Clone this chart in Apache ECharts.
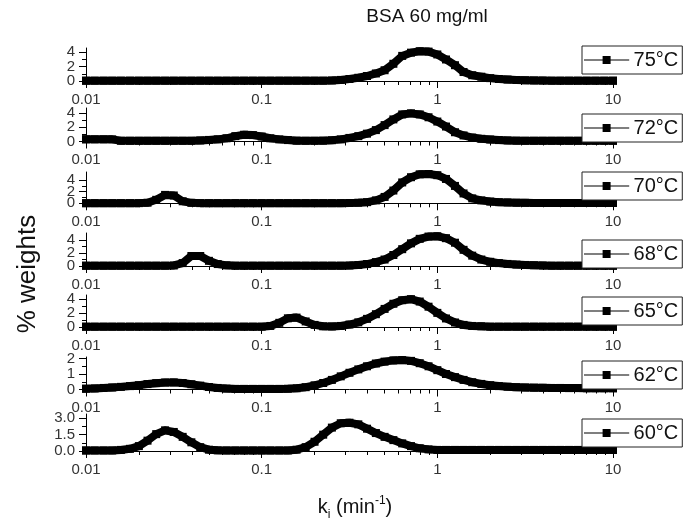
<!DOCTYPE html>
<html>
<head>
<meta charset="utf-8">
<title>BSA 60 mg/ml</title>
<script src="https://cdn.jsdelivr.net/npm/echarts@6/dist/echarts.min.js"></script>
<style>
html, body { margin: 0; padding: 0; background: #fff; }
#main { width: 699px; height: 526px; }
</style>
</head>
<body>
<div id="main"></div>
<script>
// rate constants k_i (min^-1), 20 points per decade
var kValues = [0.01, 0.0112, 0.0126, 0.0141, 0.0158, 0.0178, 0.02, 0.0224, 0.0251, 0.0282,
    0.0316, 0.0355, 0.0398, 0.0447, 0.0501, 0.0562, 0.0631, 0.0708, 0.0794, 0.0891,
    0.1, 0.112, 0.126, 0.141, 0.158, 0.178, 0.2, 0.224, 0.251, 0.282,
    0.316, 0.355, 0.398, 0.447, 0.501, 0.562, 0.631, 0.708, 0.794, 0.891,
    1, 1.12, 1.26, 1.41, 1.58, 1.78, 2, 2.24, 2.51, 2.82,
    3.16, 3.55, 3.98, 4.47, 5.01, 5.62, 6.31, 7.08, 7.94, 8.91, 10];

// % weights, one list per temperature
var w75 = [0.05, 0.05, 0.05, 0.05, 0.05, 0.05, 0.05, 0.05, 0.05, 0.05,
    0.05, 0.05, 0.05, 0.05, 0.05, 0.05, 0.05, 0.05, 0.05, 0.05,
    0.05, 0.05, 0.05, 0.05, 0.05, 0.05, 0.05, 0.05, 0.08, 0.15,
    0.28, 0.45, 0.7, 1.05, 1.5, 2.4, 3.5, 3.95, 4.15, 4.1,
    3.7, 3.0, 2.2, 1.25, 0.8, 0.6, 0.4, 0.28, 0.2, 0.14,
    0.1, 0.08, 0.06, 0.05, 0.05, 0.05, 0.05, 0.05, 0.05, 0.05, 0.05];
var w72 = [0.3, 0.3, 0.3, 0.3, 0.1, 0.1, 0.1, 0.1, 0.1, 0.1,
    0.1, 0.1, 0.1, 0.15, 0.22, 0.3, 0.45, 0.75, 0.95, 0.9,
    0.7, 0.45, 0.3, 0.2, 0.12, 0.1, 0.1, 0.12, 0.18, 0.3,
    0.5, 0.75, 1.1, 1.6, 2.3, 3.1, 3.8, 3.95, 3.8, 3.4,
    2.8, 2.1, 1.3, 0.85, 0.55, 0.38, 0.28, 0.2, 0.15, 0.12,
    0.1, 0.1, 0.1, 0.1, 0.1, 0.1, 0.1, 0.1, 0.1, 0.1, 0.1];
var w70 = [0.03, 0.03, 0.03, 0.03, 0.03, 0.03, 0.03, 0.1, 0.6, 1.45,
    1.35, 0.35, 0.08, 0.03, 0.03, 0.03, 0.03, 0.03, 0.03, 0.03,
    0.03, 0.03, 0.03, 0.03, 0.03, 0.03, 0.03, 0.03, 0.03, 0.03,
    0.05, 0.1, 0.2, 0.5, 1.1, 2.2, 3.6, 4.5, 5.0, 5.05,
    4.85, 4.2, 3.0, 1.7, 0.85, 0.5, 0.3, 0.2, 0.15, 0.1,
    0.08, 0.05, 0.05, 0.05, 0.05, 0.05, 0.05, 0.05, 0.05, 0.05, 0.05];
var w68 = [0.05, 0.05, 0.05, 0.05, 0.05, 0.05, 0.05, 0.05, 0.05, 0.05,
    0.08, 0.45, 1.55, 1.55, 0.8, 0.3, 0.1, 0.05, 0.05, 0.05,
    0.05, 0.05, 0.05, 0.05, 0.05, 0.05, 0.05, 0.05, 0.05, 0.05,
    0.08, 0.15, 0.3, 0.6, 1.0, 1.7, 2.6, 3.5, 4.2, 4.55,
    4.6, 4.3, 3.6, 2.5, 1.6, 1.0, 0.65, 0.45, 0.32, 0.22,
    0.16, 0.12, 0.08, 0.05, 0.05, 0.05, 0.05, 0.05, 0.05, 0.05, 0.05];
var w65 = [0.05, 0.05, 0.05, 0.05, 0.05, 0.05, 0.05, 0.05, 0.05, 0.05,
    0.05, 0.05, 0.05, 0.05, 0.05, 0.05, 0.05, 0.05, 0.05, 0.05,
    0.05, 0.15, 0.6, 1.25, 1.35, 0.8, 0.3, 0.1, 0.08, 0.15,
    0.35, 0.67, 1.17, 1.84, 2.6, 3.34, 3.85, 4.0, 3.66, 2.92,
    2.03, 1.23, 0.65, 0.3, 0.15, 0.1, 0.05, 0.05, 0.05, 0.05,
    0.05, 0.05, 0.05, 0.05, 0.05, 0.05, 0.05, 0.05, 0.05, 0.05, 0.05];
var w62 = [0.05, 0.07, 0.1, 0.13, 0.17, 0.22, 0.28, 0.35, 0.41, 0.45,
    0.46, 0.42, 0.34, 0.25, 0.16, 0.1, 0.06, 0.04, 0.04, 0.04,
    0.04, 0.04, 0.04, 0.05, 0.08, 0.15, 0.27, 0.42, 0.62, 0.85,
    1.08, 1.3, 1.5, 1.68, 1.8, 1.88, 1.9, 1.85, 1.7, 1.5,
    1.25, 1.0, 0.8, 0.62, 0.47, 0.36, 0.28, 0.22, 0.18, 0.15,
    0.13, 0.12, 0.11, 0.1, 0.1, 0.09, 0.09, 0.08, 0.08, 0.08, 0.08];
var w60 = [0.05, 0.05, 0.05, 0.05, 0.1, 0.2, 0.45, 0.95, 1.55, 1.9,
    1.75, 1.3, 0.8, 0.35, 0.12, 0.06, 0.05, 0.05, 0.05, 0.05,
    0.05, 0.05, 0.05, 0.05, 0.12, 0.35, 0.85, 1.5, 2.15, 2.55,
    2.6, 2.45, 2.05, 1.65, 1.3, 1.0, 0.7, 0.45, 0.25, 0.15,
    0.1, 0.1, 0.1, 0.1, 0.1, 0.1, 0.1, 0.1, 0.1, 0.1,
    0.1, 0.1, 0.1, 0.1, 0.1, 0.1, 0.1, 0.1, 0.1, 0.1, 0.1];

var temps = ['75°C', '72°C', '70°C', '68°C', '65°C', '62°C', '60°C'];
var weights = [w75, w72, w70, w68, w65, w62, w60];

// tick labels
var xMinorTicks = [0.02, 0.03, 0.04, 0.05, 0.06, 0.07, 0.08, 0.09,
    0.2, 0.3, 0.4, 0.5, 0.6, 0.7, 0.8, 0.9, 2, 3, 4, 5, 6, 7, 8, 9];
var yTicks = [[0, 2, 4], [0, 2, 4], [0, 2, 4], [0, 2, 4], [0, 2, 4], [0, 1, 2], [0, 1.5, 3]];
var yMinorTicks = [[1, 3], [1, 3], [1, 3], [1, 3], [1, 3], [0.5, 1.5], [0.75, 2.25]];

// panel layout (pixels) and y range
var panelTop = [48, 108, 172, 233, 295, 357, 414];
var panelBottom = [81, 141.5, 203.3, 266, 327, 389.5, 451];
var panelYMax = [4.6, 4.7, 5.4, 5.1, 4.6, 2.1, 3.4];
var legendTop = [46, 114, 172, 240, 297, 361, 419];

var FONT = 'Liberation Sans, Arial, sans-serif';
var grids = [], xAxes = [], yAxes = [], series = [], legends = [];

function yLabel(i, values) {
    // the outer and the middle labels sit on two axes so none of them gets dropped
    return {
        show: true, margin: 11, fontSize: 15, color: '#333', fontFamily: FONT,
        showMinLabel: true, showMaxLabel: true, hideOverlap: false,
        customValues: values,
        formatter: (i === 6) ? function (v) { return (+v).toFixed(1); } : function (v) { return String(v); }
    };
}

for (var i = 0; i < temps.length; i++) {
    grids.push({
        left: 86, right: 86,
        top: panelTop[i],
        height: panelBottom[i] - panelTop[i]
    });
    // main log axis
    xAxes.push({
        type: 'log', logBase: 10, gridIndex: i, min: 0.01, max: 10, splitNumber: 3,
        position: 'bottom',
        axisLine: { show: true, onZero: false, lineStyle: { color: '#000', width: 1 } },
        axisTick: { show: true, length: 7, lineStyle: { color: '#000' } },
        axisLabel: {
            show: true, margin: 11, fontSize: 15, color: '#333', fontFamily: FONT,
            showMinLabel: true, showMaxLabel: true,
            formatter: function (v) { return String(parseFloat((+v).toPrecision(6))); }
        },
        minorTick: { show: false },
        splitLine: { show: false }
    });
    // minor ticks 2..9 per decade
    xAxes.push({
        type: 'value', gridIndex: i, min: -2, max: 1, position: 'bottom',
        axisLine: { show: false, onZero: false },
        axisTick: { show: true, length: 4, lineStyle: { color: '#000' },
            customValues: xMinorTicks.map(function (v) { return Math.log10(v); }) },
        axisLabel: { show: false },
        splitLine: { show: false }
    });
    yAxes.push({
        type: 'value', gridIndex: i, min: 0, max: panelYMax[i], position: 'left',
        axisLine: { show: true, onZero: false, lineStyle: { color: '#000', width: 1 } },
        axisTick: { show: true, length: 7, lineStyle: { color: '#000' }, customValues: yTicks[i] },
        axisLabel: yLabel(i, [yTicks[i][0], yTicks[i][2]]),
        splitLine: { show: false }
    });
    yAxes.push({
        type: 'value', gridIndex: i, min: 0, max: panelYMax[i], position: 'left',
        axisLine: { show: false, onZero: false },
        axisTick: { show: true, length: 4, lineStyle: { color: '#000' }, customValues: yMinorTicks[i] },
        axisLabel: yLabel(i, [yTicks[i][1]]),
        splitLine: { show: false }
    });
    series.push({
        type: 'line',
        name: temps[i],
        xAxisIndex: 2 * i,
        yAxisIndex: 2 * i,
        data: kValues.map(function (k, j) { return [k, weights[i][j]]; }),
        symbol: 'rect',
        symbolSize: 8,
        showSymbol: true,
        showAllSymbol: true,
        lineStyle: { color: '#000', width: 8, join: 'round', cap: 'square' },
        itemStyle: { color: '#000' },
        clip: false,
        z: 3
    });
    legends.push({
        data: [temps[i]],
        left: 582,
        top: legendTop[i],
        itemWidth: 44,
        itemHeight: 10,
        padding: [4, 4, 4, 2],
        borderColor: '#222',
        borderWidth: 1,
        borderRadius: 0,
        backgroundColor: '#fff',
        selectedMode: false,
        lineStyle: { width: 1.2 },
        textStyle: { fontSize: 20, color: '#111', fontFamily: FONT, lineHeight: 20 },
        z: 10
    });
}

var chart = echarts.init(document.getElementById('main'), null, { renderer: 'canvas' });
chart.setOption({
    backgroundColor: '#fff',
    animation: false,
    grid: grids,
    xAxis: xAxes,
    yAxis: yAxes,
    legend: legends,
    series: series,
    graphic: [
        {
            type: 'text', x: 427, y: 17,
            style: { text: 'BSA 60 mg/ml', fontSize: 19, fontFamily: FONT, fill: '#111',
                align: 'center', verticalAlign: 'middle' }
        },
        {
            type: 'text', x: 28, y: 274, rotation: Math.PI / 2,
            style: { text: '% weights', fontSize: 26, fontFamily: FONT, fill: '#111',
                align: 'center', verticalAlign: 'middle' }
        },
        {
            type: 'text', x: 355, y: 507,
            style: {
                text: '{a|k}{s|i}{a| (min}{p|-1}{a|)}',
                align: 'center', verticalAlign: 'middle', fill: '#111',
                rich: {
                    a: { fontSize: 20, fontFamily: FONT, lineHeight: 30, verticalAlign: 'middle', fill: '#111' },
                    s: { fontSize: 12, fontFamily: FONT, lineHeight: 12, verticalAlign: 'bottom', padding: [0, 0, 1, 0], fill: '#111' },
                    p: { fontSize: 12, fontFamily: FONT, lineHeight: 12, verticalAlign: 'top', padding: [3, 0, 0, 0], fill: '#111' }
                }
            }
        }
    ]
});
</script>
</body>
</html>
